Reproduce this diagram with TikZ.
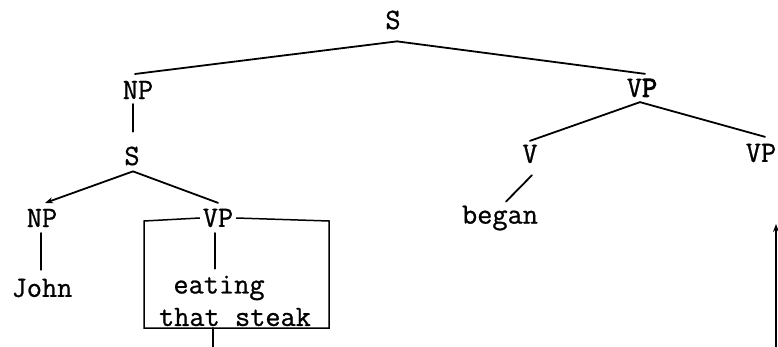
\documentclass[tikz,border=0pt]{standalone}
\usepackage{fontspec}
\setmonofont[FakeBold=0.8]{Latin Modern Mono}
\newfontfamily\heavytt[FakeBold=3]{Latin Modern Mono}
\usetikzlibrary{arrows.meta,calc}
\begin{document}
\begin{tikzpicture}[x=1pt,y=-1pt,
  lbl/.style={font=\ttfamily\fontsize{29.5}{31}\selectfont, inner sep=0pt, outer sep=0pt},
  edge/.style={line width=1.8pt, line cap=round},
  tip/.style={edge, -{Stealth[length=8pt,width=6pt]}},
  frame/.style={line width=1.5pt}]
\useasboundingbox (0,0) rectangle (778,347);
% nodes
\node[lbl] (S)   at (393,20)  {S};
\node[lbl] (NP)  at (138,90)  {NP};
\node[lbl] (VPa) at (642,88)  {V{\heavytt P}};
\node[lbl] (S2)  at (132,156) {S};
\node[lbl] (NP2) at (42,218)  {NP};
\node[lbl] (VP2) at (218,218) {VP};
\node[lbl] (John) at (42,288) {John};
\node[lbl] (eat) at (219,288) {eating};
\node[lbl] (steak) at (235,317) {that steak};
\node[lbl] (V)   at (530,154) {V};
\node[lbl] (VP3) at (761,153) {VP};
\node[lbl] (began) at (500,218) {began};
% helper coordinates
\coordinate (Sb) at ($(S.south)+(4,12)$);
\coordinate (NPt) at ($(NP.north)+(-3,-7)$);
\coordinate (VPat) at ($(VPa.north)+(3,-5)$);
\coordinate (VPab) at ($(VPa.south)+(-2,5)$);
\coordinate (S2b) at ($(S2.south)+(1,6)$);
\coordinate (Vt) at ($(V.north)+(0,-4)$);
\coordinate (Vb) at ($(V.south)+(2,12)$);
\coordinate (VP3t) at ($(VP3.north)+(4,-7)$);
\coordinate (bx1) at (144,221);
\coordinate (bx2) at (329,221);
\coordinate (bx3) at (329,328);
\coordinate (bx4) at (144,328);
\coordinate (down) at (213,347);
\coordinate (boxb) at (213,328);
\coordinate (arrbot) at (776,347);
\coordinate (arrtop) at (776,224);
% connectors
\draw[edge] (Sb) -- (NPt);
\draw[edge] (Sb) -- (VPat);
\draw[edge] ($(NP.south)+(-5,5)$) -- ($(S2.north)+(1,-15)$);
\draw[tip] (S2b) -- ($(NP2.north)+(3,-6)$);
\draw[edge] (S2b) -- ($(VP2.north)+(0,-6)$);
\draw[edge] ($(NP2.south)+(-1,6)$) -- ($(John.north)+(-1,-9)$);
\draw[edge] ($(VP2.south)+(-3,6)$) -- ($(eat.north)+(-4,-7)$);
\draw[edge] (VPab) -- (Vt);
\draw[edge] (VPab) -- (VP3t);
\draw[edge] (Vb) -- ($(began.north)+(6,-4)$);
\draw[frame] ($(VP2.east)+(3,0)$) -- (bx2) -- (bx3) -- (bx4) -- (bx1) -- ($(VP2.west)+(-3,0)$);
\draw[edge] (boxb) -- (down);
\draw[tip] (arrbot) -- (arrtop);
\end{tikzpicture}
\end{document}
